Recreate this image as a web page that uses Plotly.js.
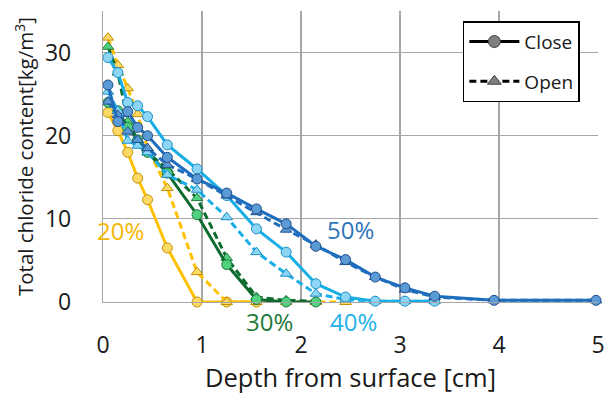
<!DOCTYPE html>
<html><head><meta charset="utf-8">
<script src="https://cdn.plot.ly/plotly-3.0.1.min.js"></script>
<style>html,body{margin:0;padding:0;background:#fff}#chart{width:605px;height:394px}</style>
</head><body><div id="chart"></div>
<script>
// Depths [cm]
const depth = [0.05,0.15,0.25,0.35,0.45,0.65,0.95,1.25,1.55,1.85,2.15,2.45,2.75,3.05,3.35,3.95,4.98];

// Total chloride content [kg/m3]
const c20Close = [22.8,20.6,18.0,14.9,12.3,6.5,0.0,0.0,0.0];
const c20Open  = [31.8,28.5,25.7,22.6,18.5,13.7,3.6,0.0,0.0,0.0,0.0,0.0];
const c30Close = [24.0,23.0,21.0,19.5,18.0,15.5,10.5,4.5,0.3,0.0,0.0];
const c30Open  = [30.7,27.6,21.7,19.5,18.0,16.0,12.5,5.3,0.6,0.2,0.1];
const c40Close = [29.4,27.6,24.0,23.6,22.3,18.9,16.0,12.8,8.8,6.0,2.2,0.6,0.1,0.1,0.1];
const c40Open  = [25.3,23.0,19.4,18.8,18.0,15.3,13.5,10.2,6.0,3.4,1.0,0.3,0.1,0.1,0.1];
const c50Close = [26.1,21.7,22.9,21.0,20.0,17.4,14.8,13.1,11.2,9.4,6.7,5.1,3.0,1.7,0.7,0.2,0.2];
const c50Open  = [24.1,22.5,20.5,19.5,18.5,16.5,14.8,12.8,10.8,8.7,6.9,4.8,3.0,1.5,0.6,0.2,0.2];

const legendNames = ["Close","Open"];
const labels = ["20%","30%","40%","50%"];

const FONT = "'Open Sans', Lato, sans-serif";

const styles = {
  "20%": {line:"#FFC000", fill:"#FFD966", edge:"#BF9000", text:"#F5B800"},
  "30%": {line:"#0E6B2F", fill:"#4FD17E", edge:"#217A3C", text:"#1E7B3A"},
  "40%": {line:"#1AAEE6", fill:"#8DD5F5", edge:"#1B8FC8", text:"#25B2EA"},
  "50%": {line:"#1F6EBE", fill:"#5B9BD5", edge:"#1F4E8C", text:"#2E75B6"}
};

function tr(vals, key, open){
  const s = styles[key];
  return {
    x: depth.slice(0, vals.length), y: vals, type:"scatter", mode:"lines+markers",
    showlegend:false, cliponaxis:false,
    line:{color:s.line, width:3, dash: open ? "7px,4px" : "solid"},
    marker:{symbol: open ? "triangle-up" : "circle", size: 10,
            color:s.fill, line:{color:s.edge, width:1}}
  };
}

const traces = [
  tr(c20Close,"20%",false), tr(c20Open,"20%",true),
  tr(c30Open,"30%",true), tr(c30Close,"30%",false),
  tr(c40Open,"40%",true), tr(c40Close,"40%",false),
  tr(c50Open,"50%",true), tr(c50Close,"50%",false),
  {x:[null], y:[null], type:"scatter", mode:"lines+markers", name:legendNames[0], legendgroup:"a",
   line:{color:"#000", width:3}, marker:{symbol:"circle", size:12, color:"#7F7F7F", line:{color:"#404040", width:1}}},
  {x:[null], y:[null], type:"scatter", mode:"lines+markers", name:legendNames[1], legendgroup:"b",
   line:{color:"#000", width:3, dash:"7px,4px"}, marker:{symbol:"triangle-up", size:12, color:"#7F7F7F", line:{color:"#404040", width:1}}}
];

const annPos = {"20%":[0.18,8.6/35], "30%":[1.68,-2.4/35], "40%":[2.53,-2.4/35], "50%":[2.5,8.7/35]};
const annotations = labels.map(k => ({
  x: annPos[k][0], y: annPos[k][1], xref:"x", yref:"paper", xanchor:"center", yanchor:"middle",
  text:k, showarrow:false,
  font:{family:FONT, size:24, color:styles[k].text}
}));

const layout = {
  width:605, height:394,
  margin:{l:103, r:7, t:11, b:92},
  paper_bgcolor:"#fff", plot_bgcolor:"#fff",
  font:{family:FONT, color:"#000"},
  xaxis:{range:[0,5], dtick:1, tick0:0, showgrid:true, gridcolor:"#A6A6A6", gridwidth:1.2,
         zeroline:false, showline:true, linecolor:"#A6A6A6", linewidth:1.2, ticks:"",
         tickfont:{size:23, color:"#1a1a1a"}, ticklabelstandoff:22,
         title:{text:"Depth from surface [cm]", font:{size:25.5, color:"#1a1a1a"}, standoff:2}},
  yaxis:{range:[0,35], tickvals:[0,10,20,30], showgrid:true, gridcolor:"#A6A6A6", gridwidth:1.2,
         zeroline:false, showline:true, linecolor:"#A6A6A6", linewidth:1.2, ticks:"",
         tickfont:{size:23, color:"#1a1a1a"}, ticklabelstandoff:26,
         title:{text:"Total chloride content[kg/m<sup>3</sup>]", font:{size:20.5, color:"#1a1a1a"}, standoff:5}},
  showlegend:true,
  legend:{x:0.727, y:0.965, xanchor:"left", yanchor:"top", bgcolor:"#fff",
          bordercolor:"#000", borderwidth:1.5, font:{size:19, color:"#1a1a1a"},
          itemwidth:50, tracegroupgap:12},
  annotations: annotations
};

Plotly.newPlot("chart", traces, layout, {displayModeBar:false, staticPlot:true});
</script>
</body></html>
